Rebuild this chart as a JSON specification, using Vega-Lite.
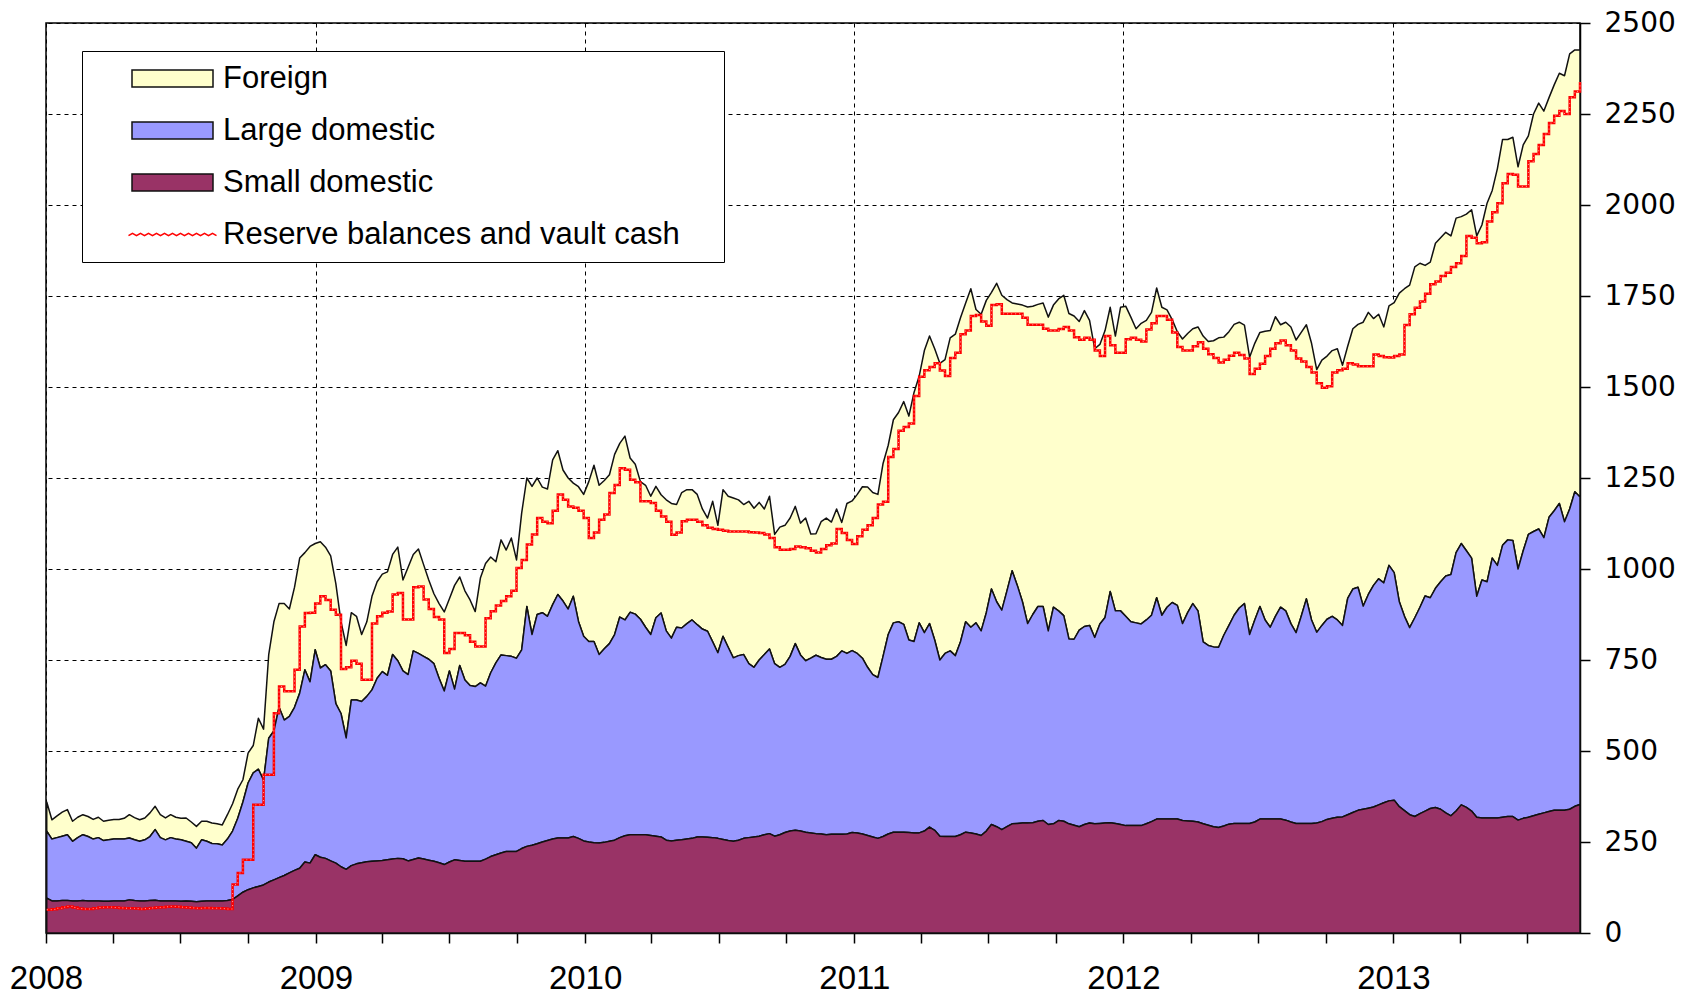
{
"$schema": "https://vega.github.io/schema/vega-lite/v6.json",
"autosize": {"type": "none"},
"width": 1534,
"height": 910,
"padding": {"left": 46, "top": 23, "right": 114, "bottom": 62},
"background": "white",
"config": {
  "view": {"stroke": "#000000", "strokeWidth": 1.5},
  "font": "Liberation Sans",
  "legend": {"symbolOpacity": 1, "symbolSize": 400, "symbolStrokeWidth": 1.5}
},
"data": {"format": {"parse": {"d": "date"}}, "values": [
{"d":"2008-01-02","small":96,"large":184,"foreign":80,"reserve":64},
{"d":"2008-01-09","small":88,"large":170,"foreign":53,"reserve":65},
{"d":"2008-01-16","small":88,"large":174,"foreign":60,"reserve":68},
{"d":"2008-01-23","small":89,"large":177,"foreign":66,"reserve":71},
{"d":"2008-01-30","small":89,"large":181,"foreign":69,"reserve":73},
{"d":"2008-02-06","small":88,"large":164,"foreign":55,"reserve":70},
{"d":"2008-02-13","small":88,"large":174,"foreign":56,"reserve":67},
{"d":"2008-02-20","small":89,"large":181,"foreign":55,"reserve":66},
{"d":"2008-02-27","small":88,"large":177,"foreign":55,"reserve":66},
{"d":"2008-03-05","small":88,"large":170,"foreign":54,"reserve":68},
{"d":"2008-03-12","small":88,"large":174,"foreign":56,"reserve":70},
{"d":"2008-03-19","small":87,"large":167,"foreign":53,"reserve":71},
{"d":"2008-03-26","small":87,"large":169,"foreign":54,"reserve":71},
{"d":"2008-04-02","small":88,"large":170,"foreign":54,"reserve":70},
{"d":"2008-04-09","small":88,"large":170,"foreign":54,"reserve":69},
{"d":"2008-04-16","small":88,"large":170,"foreign":57,"reserve":68},
{"d":"2008-04-23","small":91,"large":170,"foreign":64,"reserve":68},
{"d":"2008-04-30","small":89,"large":167,"foreign":61,"reserve":67},
{"d":"2008-05-07","small":88,"large":164,"foreign":59,"reserve":66},
{"d":"2008-05-14","small":88,"large":168,"foreign":60,"reserve":67},
{"d":"2008-05-21","small":89,"large":176,"foreign":65,"reserve":69},
{"d":"2008-05-28","small":90,"large":194,"foreign":64,"reserve":70},
{"d":"2008-06-04","small":88,"large":174,"foreign":63,"reserve":71},
{"d":"2008-06-11","small":88,"large":168,"foreign":60,"reserve":72},
{"d":"2008-06-18","small":88,"large":174,"foreign":63,"reserve":73},
{"d":"2008-06-25","small":88,"large":170,"foreign":60,"reserve":72},
{"d":"2008-07-02","small":87,"large":169,"foreign":59,"reserve":71},
{"d":"2008-07-09","small":88,"large":164,"foreign":64,"reserve":70},
{"d":"2008-07-16","small":87,"large":161,"foreign":57,"reserve":69},
{"d":"2008-07-23","small":86,"large":147,"foreign":60,"reserve":68},
{"d":"2008-07-30","small":87,"large":169,"foreign":51,"reserve":69},
{"d":"2008-08-06","small":88,"large":164,"foreign":55,"reserve":69},
{"d":"2008-08-13","small":88,"large":158,"foreign":56,"reserve":68},
{"d":"2008-08-20","small":88,"large":157,"foreign":55,"reserve":68},
{"d":"2008-08-27","small":88,"large":154,"foreign":55,"reserve":67},
{"d":"2008-09-03","small":89,"large":169,"foreign":67,"reserve":66},
{"d":"2008-09-10","small":92,"large":188,"foreign":75,"reserve":133},
{"d":"2008-09-17","small":102,"large":213,"foreign":80,"reserve":165},
{"d":"2008-09-24","small":112,"large":248,"foreign":61,"reserve":201},
{"d":"2008-10-01","small":119,"large":293,"foreign":82,"reserve":201},
{"d":"2008-10-08","small":124,"large":316,"foreign":75,"reserve":352},
{"d":"2008-10-15","small":128,"large":322,"foreign":140,"reserve":352},
{"d":"2008-10-22","small":132,"large":288,"foreign":140,"reserve":435},
{"d":"2008-10-29","small":140,"large":395,"foreign":230,"reserve":435},
{"d":"2008-11-05","small":146,"large":409,"foreign":300,"reserve":604},
{"d":"2008-11-12","small":152,"large":468,"foreign":285,"reserve":677},
{"d":"2008-11-19","small":158,"large":427,"foreign":320,"reserve":664},
{"d":"2008-11-26","small":165,"large":430,"foreign":295,"reserve":664},
{"d":"2008-12-03","small":172,"large":448,"foreign":330,"reserve":723},
{"d":"2008-12-10","small":178,"large":481,"foreign":371,"reserve":842},
{"d":"2008-12-17","small":195,"large":528,"foreign":322,"reserve":879},
{"d":"2008-12-24","small":192,"large":498,"foreign":372,"reserve":880},
{"d":"2008-12-31","small":215,"large":563,"foreign":292,"reserve":905},
{"d":"2009-01-07","small":208,"large":520,"foreign":347,"reserve":925},
{"d":"2009-01-14","small":205,"large":532,"foreign":323,"reserve":915},
{"d":"2009-01-21","small":198,"large":522,"foreign":316,"reserve":888},
{"d":"2009-01-28","small":192,"large":438,"foreign":330,"reserve":874},
{"d":"2009-02-04","small":182,"large":421,"foreign":252,"reserve":725},
{"d":"2009-02-11","small":175,"large":361,"foreign":254,"reserve":730},
{"d":"2009-02-18","small":185,"large":455,"foreign":240,"reserve":748},
{"d":"2009-02-25","small":190,"large":450,"foreign":230,"reserve":740},
{"d":"2009-03-04","small":193,"large":443,"foreign":184,"reserve":696},
{"d":"2009-03-11","small":196,"large":454,"foreign":205,"reserve":696},
{"d":"2009-03-18","small":197,"large":471,"foreign":257,"reserve":850},
{"d":"2009-03-25","small":198,"large":502,"foreign":265,"reserve":870},
{"d":"2009-04-01","small":199,"large":519,"foreign":268,"reserve":880},
{"d":"2009-04-08","small":201,"large":507,"foreign":284,"reserve":883},
{"d":"2009-04-15","small":203,"large":562,"foreign":275,"reserve":930},
{"d":"2009-04-22","small":205,"large":543,"foreign":312,"reserve":934},
{"d":"2009-04-29","small":204,"large":516,"foreign":250,"reserve":861},
{"d":"2009-05-06","small":198,"large":512,"foreign":295,"reserve":861},
{"d":"2009-05-13","small":202,"large":573,"foreign":265,"reserve":950},
{"d":"2009-05-20","small":206,"large":562,"foreign":287,"reserve":952},
{"d":"2009-05-27","small":203,"large":557,"foreign":252,"reserve":916},
{"d":"2009-06-03","small":200,"large":552,"foreign":218,"reserve":890},
{"d":"2009-06-10","small":197,"large":543,"foreign":192,"reserve":868},
{"d":"2009-06-17","small":193,"large":507,"foreign":205,"reserve":861},
{"d":"2009-06-24","small":188,"large":477,"foreign":217,"reserve":769},
{"d":"2009-07-01","small":195,"large":525,"foreign":198,"reserve":780},
{"d":"2009-07-08","small":201,"large":469,"foreign":285,"reserve":824},
{"d":"2009-07-15","small":199,"large":536,"foreign":243,"reserve":824},
{"d":"2009-07-22","small":197,"large":498,"foreign":245,"reserve":818},
{"d":"2009-07-29","small":197,"large":483,"foreign":235,"reserve":800},
{"d":"2009-08-05","small":197,"large":480,"foreign":206,"reserve":787},
{"d":"2009-08-12","small":197,"large":490,"foreign":288,"reserve":787},
{"d":"2009-08-19","small":203,"large":475,"foreign":337,"reserve":865},
{"d":"2009-08-26","small":210,"large":505,"foreign":318,"reserve":884},
{"d":"2009-09-02","small":215,"large":527,"foreign":278,"reserve":900},
{"d":"2009-09-09","small":220,"large":544,"foreign":316,"reserve":912},
{"d":"2009-09-16","small":224,"large":538,"foreign":290,"reserve":925},
{"d":"2009-09-23","small":224,"large":536,"foreign":325,"reserve":940},
{"d":"2009-09-30","small":224,"large":531,"foreign":270,"reserve":1003},
{"d":"2009-10-07","small":232,"large":546,"foreign":376,"reserve":1025},
{"d":"2009-10-14","small":238,"large":659,"foreign":353,"reserve":1067},
{"d":"2009-10-21","small":241,"large":579,"foreign":407,"reserve":1095},
{"d":"2009-10-28","small":245,"large":630,"foreign":375,"reserve":1140},
{"d":"2009-11-04","small":250,"large":630,"foreign":345,"reserve":1130},
{"d":"2009-11-11","small":254,"large":616,"foreign":350,"reserve":1126},
{"d":"2009-11-18","small":258,"large":644,"foreign":398,"reserve":1160},
{"d":"2009-11-25","small":261,"large":669,"foreign":395,"reserve":1205},
{"d":"2009-12-02","small":261,"large":651,"foreign":360,"reserve":1190},
{"d":"2009-12-09","small":261,"large":629,"foreign":360,"reserve":1172},
{"d":"2009-12-16","small":265,"large":660,"foreign":311,"reserve":1168},
{"d":"2009-12-23","small":260,"large":596,"foreign":370,"reserve":1160},
{"d":"2009-12-30","small":253,"large":562,"foreign":390,"reserve":1140},
{"d":"2010-01-06","small":250,"large":551,"foreign":439,"reserve":1085},
{"d":"2010-01-13","small":248,"large":553,"foreign":484,"reserve":1100},
{"d":"2010-01-20","small":247,"large":518,"foreign":465,"reserve":1135},
{"d":"2010-01-27","small":249,"large":532,"foreign":462,"reserve":1150},
{"d":"2010-02-03","small":252,"large":543,"foreign":464,"reserve":1209},
{"d":"2010-02-10","small":255,"large":565,"foreign":495,"reserve":1231},
{"d":"2010-02-17","small":262,"large":606,"foreign":477,"reserve":1277},
{"d":"2010-02-24","small":267,"large":593,"foreign":505,"reserve":1273},
{"d":"2010-03-03","small":270,"large":611,"foreign":424,"reserve":1245},
{"d":"2010-03-10","small":270,"large":606,"foreign":412,"reserve":1238},
{"d":"2010-03-17","small":270,"large":592,"foreign":378,"reserve":1186},
{"d":"2010-03-24","small":270,"large":570,"foreign":390,"reserve":1186},
{"d":"2010-03-31","small":268,"large":552,"foreign":380,"reserve":1181},
{"d":"2010-04-07","small":266,"large":600,"foreign":361,"reserve":1160},
{"d":"2010-04-14","small":264,"large":615,"foreign":325,"reserve":1144},
{"d":"2010-04-21","small":255,"large":575,"foreign":360,"reserve":1130},
{"d":"2010-04-28","small":253,"large":557,"foreign":370,"reserve":1094},
{"d":"2010-05-05","small":255,"large":585,"foreign":337,"reserve":1100},
{"d":"2010-05-12","small":256,"large":582,"foreign":372,"reserve":1131},
{"d":"2010-05-19","small":258,"large":592,"foreign":368,"reserve":1135},
{"d":"2010-05-26","small":260,"large":600,"foreign":358,"reserve":1135},
{"d":"2010-06-02","small":264,"large":583,"foreign":358,"reserve":1130},
{"d":"2010-06-09","small":264,"large":571,"foreign":330,"reserve":1120},
{"d":"2010-06-16","small":263,"large":566,"foreign":311,"reserve":1113},
{"d":"2010-06-23","small":262,"large":538,"foreign":386,"reserve":1110},
{"d":"2010-06-30","small":260,"large":510,"foreign":350,"reserve":1108},
{"d":"2010-07-07","small":257,"large":558,"foreign":403,"reserve":1105},
{"d":"2010-07-14","small":254,"large":531,"foreign":415,"reserve":1103},
{"d":"2010-07-21","small":252,"large":504,"foreign":439,"reserve":1103},
{"d":"2010-07-28","small":255,"large":507,"foreign":428,"reserve":1103},
{"d":"2010-08-04","small":260,"large":505,"foreign":412,"reserve":1103},
{"d":"2010-08-11","small":262,"large":478,"foreign":446,"reserve":1101},
{"d":"2010-08-18","small":264,"large":466,"foreign":437,"reserve":1100},
{"d":"2010-08-25","small":266,"large":484,"foreign":433,"reserve":1099},
{"d":"2010-09-01","small":270,"large":495,"foreign":400,"reserve":1095},
{"d":"2010-09-08","small":273,"large":507,"foreign":420,"reserve":1085},
{"d":"2010-09-15","small":266,"large":474,"foreign":355,"reserve":1060},
{"d":"2010-09-22","small":270,"large":460,"foreign":385,"reserve":1053},
{"d":"2010-09-29","small":276,"large":462,"foreign":382,"reserve":1053},
{"d":"2010-10-06","small":280,"large":480,"foreign":380,"reserve":1055},
{"d":"2010-10-13","small":282,"large":513,"foreign":377,"reserve":1062},
{"d":"2010-10-20","small":280,"large":484,"foreign":362,"reserve":1060},
{"d":"2010-10-27","small":277,"large":471,"foreign":392,"reserve":1057},
{"d":"2010-11-03","small":275,"large":480,"foreign":341,"reserve":1050},
{"d":"2010-11-10","small":273,"large":490,"foreign":334,"reserve":1045},
{"d":"2010-11-17","small":272,"large":485,"foreign":373,"reserve":1055},
{"d":"2010-11-24","small":270,"large":482,"foreign":388,"reserve":1065},
{"d":"2010-12-01","small":271,"large":481,"foreign":377,"reserve":1070},
{"d":"2010-12-08","small":271,"large":489,"foreign":405,"reserve":1110},
{"d":"2010-12-15","small":271,"large":504,"foreign":353,"reserve":1099},
{"d":"2010-12-22","small":272,"large":496,"foreign":412,"reserve":1080},
{"d":"2010-12-29","small":276,"large":500,"foreign":411,"reserve":1069},
{"d":"2011-01-05","small":275,"large":493,"foreign":437,"reserve":1090},
{"d":"2011-01-12","small":272,"large":483,"foreign":471,"reserve":1108},
{"d":"2011-01-19","small":268,"large":462,"foreign":495,"reserve":1120},
{"d":"2011-01-26","small":264,"large":446,"foreign":500,"reserve":1140},
{"d":"2011-02-02","small":260,"large":442,"foreign":503,"reserve":1177},
{"d":"2011-02-09","small":265,"large":495,"foreign":530,"reserve":1185},
{"d":"2011-02-16","small":272,"large":548,"foreign":520,"reserve":1308},
{"d":"2011-02-23","small":277,"large":575,"foreign":558,"reserve":1330},
{"d":"2011-03-02","small":277,"large":578,"foreign":575,"reserve":1380},
{"d":"2011-03-09","small":277,"large":571,"foreign":612,"reserve":1390},
{"d":"2011-03-16","small":276,"large":529,"foreign":615,"reserve":1400},
{"d":"2011-03-23","small":275,"large":526,"foreign":684,"reserve":1475},
{"d":"2011-03-30","small":275,"large":577,"foreign":678,"reserve":1528},
{"d":"2011-04-06","small":280,"large":545,"foreign":775,"reserve":1546},
{"d":"2011-04-13","small":291,"large":559,"foreign":790,"reserve":1555},
{"d":"2011-04-20","small":282,"large":523,"foreign":800,"reserve":1565},
{"d":"2011-04-27","small":266,"large":484,"foreign":815,"reserve":1545},
{"d":"2011-05-04","small":265,"large":503,"foreign":807,"reserve":1530},
{"d":"2011-05-11","small":265,"large":510,"foreign":860,"reserve":1580},
{"d":"2011-05-18","small":265,"large":497,"foreign":883,"reserve":1594},
{"d":"2011-05-25","small":270,"large":530,"foreign":890,"reserve":1645},
{"d":"2011-06-01","small":277,"large":578,"foreign":876,"reserve":1655},
{"d":"2011-06-08","small":275,"large":565,"foreign":930,"reserve":1695},
{"d":"2011-06-15","small":272,"large":580,"foreign":861,"reserve":1698},
{"d":"2011-06-22","small":268,"large":562,"foreign":870,"reserve":1680},
{"d":"2011-06-29","small":280,"large":600,"foreign":858,"reserve":1668},
{"d":"2011-07-06","small":298,"large":647,"foreign":815,"reserve":1725},
{"d":"2011-07-13","small":292,"large":618,"foreign":875,"reserve":1727},
{"d":"2011-07-20","small":284,"large":603,"foreign":865,"reserve":1701},
{"d":"2011-07-27","small":292,"large":648,"foreign":800,"reserve":1701},
{"d":"2011-08-03","small":300,"large":695,"foreign":736,"reserve":1701},
{"d":"2011-08-10","small":301,"large":654,"foreign":773,"reserve":1701},
{"d":"2011-08-17","small":302,"large":608,"foreign":815,"reserve":1690},
{"d":"2011-08-24","small":302,"large":548,"foreign":870,"reserve":1671},
{"d":"2011-08-31","small":303,"large":572,"foreign":847,"reserve":1671},
{"d":"2011-09-07","small":307,"large":590,"foreign":830,"reserve":1671},
{"d":"2011-09-14","small":309,"large":588,"foreign":834,"reserve":1660},
{"d":"2011-09-21","small":298,"large":532,"foreign":862,"reserve":1655},
{"d":"2011-09-28","small":300,"large":595,"foreign":830,"reserve":1655},
{"d":"2011-10-05","small":309,"large":576,"foreign":857,"reserve":1659},
{"d":"2011-10-12","small":307,"large":565,"foreign":880,"reserve":1665},
{"d":"2011-10-19","small":300,"large":508,"foreign":894,"reserve":1655},
{"d":"2011-10-26","small":296,"large":511,"foreign":888,"reserve":1637},
{"d":"2011-11-02","small":292,"large":540,"foreign":848,"reserve":1630},
{"d":"2011-11-09","small":298,"large":544,"foreign":868,"reserve":1635},
{"d":"2011-11-16","small":302,"large":543,"foreign":838,"reserve":1630},
{"d":"2011-11-23","small":300,"large":512,"foreign":793,"reserve":1600},
{"d":"2011-11-30","small":301,"large":548,"foreign":768,"reserve":1585},
{"d":"2011-12-07","small":302,"large":565,"foreign":788,"reserve":1640},
{"d":"2011-12-14","small":303,"large":635,"foreign":781,"reserve":1615},
{"d":"2011-12-21","small":301,"large":584,"foreign":755,"reserve":1594},
{"d":"2011-12-28","small":298,"large":587,"foreign":834,"reserve":1594},
{"d":"2012-01-04","small":295,"large":575,"foreign":852,"reserve":1631},
{"d":"2012-01-11","small":295,"large":560,"foreign":837,"reserve":1635},
{"d":"2012-01-18","small":295,"large":557,"foreign":808,"reserve":1630},
{"d":"2012-01-25","small":295,"large":554,"foreign":826,"reserve":1625},
{"d":"2012-02-01","small":300,"large":560,"foreign":823,"reserve":1658},
{"d":"2012-02-08","small":306,"large":567,"foreign":832,"reserve":1675},
{"d":"2012-02-15","small":313,"large":608,"foreign":851,"reserve":1695},
{"d":"2012-02-22","small":313,"large":560,"foreign":846,"reserve":1695},
{"d":"2012-02-29","small":313,"large":582,"foreign":817,"reserve":1685},
{"d":"2012-03-07","small":313,"large":595,"foreign":777,"reserve":1650},
{"d":"2012-03-14","small":313,"large":587,"foreign":752,"reserve":1610},
{"d":"2012-03-21","small":309,"large":541,"foreign":782,"reserve":1600},
{"d":"2012-03-28","small":308,"large":572,"foreign":767,"reserve":1600},
{"d":"2012-04-04","small":307,"large":598,"foreign":755,"reserve":1612},
{"d":"2012-04-11","small":305,"large":580,"foreign":780,"reserve":1623},
{"d":"2012-04-18","small":300,"large":500,"foreign":840,"reserve":1605},
{"d":"2012-04-25","small":296,"large":494,"foreign":835,"reserve":1590},
{"d":"2012-05-02","small":292,"large":494,"foreign":841,"reserve":1580},
{"d":"2012-05-09","small":290,"large":495,"foreign":850,"reserve":1567},
{"d":"2012-05-16","small":294,"large":524,"foreign":819,"reserve":1575},
{"d":"2012-05-23","small":299,"large":546,"foreign":807,"reserve":1586},
{"d":"2012-05-30","small":301,"large":572,"foreign":799,"reserve":1594},
{"d":"2012-06-06","small":301,"large":592,"foreign":785,"reserve":1588},
{"d":"2012-06-13","small":301,"large":604,"foreign":765,"reserve":1578},
{"d":"2012-06-20","small":301,"large":519,"foreign":762,"reserve":1536},
{"d":"2012-06-27","small":305,"large":555,"foreign":760,"reserve":1550},
{"d":"2012-07-04","small":313,"large":584,"foreign":753,"reserve":1564},
{"d":"2012-07-11","small":313,"large":547,"foreign":793,"reserve":1585},
{"d":"2012-07-18","small":313,"large":527,"foreign":815,"reserve":1605},
{"d":"2012-07-25","small":313,"large":557,"foreign":823,"reserve":1620},
{"d":"2012-08-01","small":313,"large":582,"foreign":776,"reserve":1628},
{"d":"2012-08-08","small":310,"large":575,"foreign":793,"reserve":1615},
{"d":"2012-08-15","small":305,"large":545,"foreign":815,"reserve":1600},
{"d":"2012-08-22","small":301,"large":524,"foreign":804,"reserve":1578},
{"d":"2012-08-29","small":301,"large":569,"foreign":780,"reserve":1570},
{"d":"2012-09-05","small":301,"large":617,"foreign":753,"reserve":1555},
{"d":"2012-09-12","small":301,"large":559,"foreign":760,"reserve":1540},
{"d":"2012-09-19","small":302,"large":524,"foreign":722,"reserve":1510},
{"d":"2012-09-26","small":306,"large":539,"foreign":729,"reserve":1498},
{"d":"2012-10-03","small":312,"large":550,"foreign":723,"reserve":1502},
{"d":"2012-10-10","small":315,"large":555,"foreign":730,"reserve":1540},
{"d":"2012-10-17","small":318,"large":542,"foreign":745,"reserve":1546},
{"d":"2012-10-24","small":319,"large":526,"foreign":715,"reserve":1550},
{"d":"2012-10-31","small":325,"large":594,"foreign":693,"reserve":1565},
{"d":"2012-11-07","small":331,"large":614,"foreign":715,"reserve":1562},
{"d":"2012-11-14","small":337,"large":613,"foreign":722,"reserve":1557},
{"d":"2012-11-21","small":340,"large":558,"foreign":780,"reserve":1557},
{"d":"2012-11-28","small":343,"large":587,"foreign":775,"reserve":1557},
{"d":"2012-12-05","small":346,"large":609,"foreign":733,"reserve":1589},
{"d":"2012-12-12","small":352,"large":621,"foreign":727,"reserve":1585},
{"d":"2012-12-19","small":358,"large":604,"foreign":703,"reserve":1582},
{"d":"2012-12-26","small":363,"large":647,"foreign":713,"reserve":1581},
{"d":"2013-01-02","small":365,"large":625,"foreign":742,"reserve":1585},
{"d":"2013-01-09","small":347,"large":563,"foreign":848,"reserve":1589},
{"d":"2013-01-16","small":336,"large":534,"foreign":900,"reserve":1670},
{"d":"2013-01-23","small":325,"large":514,"foreign":941,"reserve":1700},
{"d":"2013-01-30","small":320,"large":546,"foreign":964,"reserve":1718},
{"d":"2013-02-06","small":328,"large":567,"foreign":945,"reserve":1735},
{"d":"2013-02-13","small":335,"large":591,"foreign":908,"reserve":1756},
{"d":"2013-02-20","small":342,"large":579,"foreign":922,"reserve":1782},
{"d":"2013-02-27","small":345,"large":602,"foreign":948,"reserve":1790},
{"d":"2013-03-06","small":340,"large":625,"foreign":945,"reserve":1805},
{"d":"2013-03-13","small":330,"large":651,"foreign":944,"reserve":1814},
{"d":"2013-03-20","small":322,"large":663,"foreign":930,"reserve":1830},
{"d":"2013-03-27","small":335,"large":710,"foreign":919,"reserve":1840},
{"d":"2013-04-03","small":352,"large":718,"foreign":898,"reserve":1860},
{"d":"2013-04-10","small":345,"large":705,"foreign":925,"reserve":1915},
{"d":"2013-04-17","small":335,"large":695,"foreign":957,"reserve":1910},
{"d":"2013-04-24","small":318,"large":607,"foreign":990,"reserve":1895},
{"d":"2013-05-01","small":316,"large":654,"foreign":975,"reserve":1898},
{"d":"2013-05-08","small":316,"large":649,"foreign":1040,"reserve":1955},
{"d":"2013-05-15","small":316,"large":714,"foreign":1010,"reserve":1980},
{"d":"2013-05-22","small":316,"large":694,"foreign":1090,"reserve":2005},
{"d":"2013-05-29","small":318,"large":747,"foreign":1115,"reserve":2060},
{"d":"2013-06-05","small":320,"large":760,"foreign":1100,"reserve":2085},
{"d":"2013-06-12","small":320,"large":758,"foreign":1108,"reserve":2083},
{"d":"2013-06-19","small":310,"large":690,"foreign":1105,"reserve":2051},
{"d":"2013-06-26","small":315,"large":735,"foreign":1115,"reserve":2051},
{"d":"2013-07-03","small":318,"large":777,"foreign":1095,"reserve":2120},
{"d":"2013-07-10","small":322,"large":781,"foreign":1147,"reserve":2140},
{"d":"2013-07-17","small":326,"large":784,"foreign":1170,"reserve":2165},
{"d":"2013-07-24","small":330,"large":756,"foreign":1172,"reserve":2195},
{"d":"2013-07-31","small":334,"large":808,"foreign":1153,"reserve":2225},
{"d":"2013-08-07","small":337,"large":823,"foreign":1170,"reserve":2245},
{"d":"2013-08-14","small":337,"large":843,"foreign":1182,"reserve":2258},
{"d":"2013-08-21","small":337,"large":793,"foreign":1225,"reserve":2250},
{"d":"2013-08-28","small":340,"large":825,"foreign":1250,"reserve":2296},
{"d":"2013-09-04","small":348,"large":864,"foreign":1214,"reserve":2312},
{"d":"2013-09-11","small":353,"large":845,"foreign":1228,"reserve":2338}
]},
"transform": [{"fold": ["foreign", "large", "small", "reserve"], "as": ["key", "value"]}],
"encoding": {
  "x": {
    "field": "d", "type": "temporal",
    "scale": {"type": "utc", "nice": false, "domain": [{"year": 2008, "month": 1, "date": 1, "utc": true}, {"year": 2013, "month": 9, "date": 11, "utc": true}]},
    "axis": {
      "title": null,
      "tickCount": {"interval": "month", "step": 3},
      "labelExpr": "utcmonth(datum.value) === 0 ? utcFormat(datum.value, '%Y') : ''",
      "labelFont": "Liberation Sans", "labelFontSize": 33, "labelColor": "#000000",
      "labelPadding": 19, "labelFlush": false, "labelOverlap": false, "labelBound": false,
      "tickSize": 10, "tickColor": "#000000", "tickWidth": 1.5,
      "domainColor": "#000000", "domainWidth": 1.5,
      "grid": true, "gridColor": "#000000", "gridDash": [4, 4], "gridWidth": 1,
      "gridOpacity": {"condition": {"test": "utcmonth(datum.value) !== 0", "value": 0}, "value": 1},
      "encode": {
        "ticks": {
          "y": {"condition": {"test": "utcmonth(datum.value) === 0", "value": -9}, "value": 0},
          "y2": {"condition": {"test": "utcmonth(datum.value) === 0", "value": 10}, "value": 8}
        }
      }
    }
  }
},
"layer": [
  {
    "transform": [{"filter": "datum.key !== 'reserve'"}],
    "mark": {"type": "area", "strokeWidth": 1.5, "strokeJoin": "round"},
    "encoding": {
      "y": {
        "field": "value", "type": "quantitative", "stack": "zero",
        "scale": {"domain": [0, 2500], "nice": false},
        "axis": {
          "title": null, "orient": "right", "format": "d",
          "values": [0, 250, 500, 750, 1000, 1250, 1500, 1750, 2000, 2250, 2500],
          "labelFont": "DejaVu Sans", "labelFontSize": 28, "labelColor": "#000000",
          "labelAlign": "left", "labelBaseline": "middle", "labelPadding": 14,
          "tickSize": 10, "tickColor": "#000000", "tickWidth": 1.5,
          "domainColor": "#000000", "domainWidth": 1.5,
          "grid": true, "gridColor": "#000000", "gridDash": [4, 4], "gridWidth": 1
        }
      },
      "fill": {
        "field": "key", "type": "nominal",
        "scale": {"domain": ["foreign", "large", "small", "reserve"], "range": ["#ffffcc", "#9999ff", "#993366", "transparent"]},
        "legend": {
          "title": null, "orient": "none", "legendX": 36, "legendY": 28,
          "direction": "vertical",
          "labelExpr": "datum.value === 'foreign' ? 'Foreign' : datum.value === 'large' ? 'Large domestic' : datum.value === 'small' ? 'Small domestic' : 'Reserve balances and vault cash'",
          "labelFont": "Liberation Sans", "labelFontSize": 31, "labelColor": "#000000", "labelLimit": 0,
          "labelOffset": 35, "symbolOffset": 63, "symbolSize": 400, "symbolStrokeWidth": 1.5, "symbolOpacity": 1,
          "rowPadding": 20, "padding": 12,
          "strokeColor": "#000000", "fillColor": "#ffffff"
        }
      },
      "stroke": {
        "field": "key", "type": "nominal",
        "scale": {"domain": ["foreign", "large", "small", "reserve"], "range": ["#111111", "#111111", "#111111", "#ff0000"]}
      },
      "order": {"field": "key", "sort": "descending"}
    }
  },
  {
    "transform": [{"filter": "datum.key === 'reserve'"}],
    "mark": {"type": "line", "interpolate": "step-after", "strokeWidth": 2.5},
    "encoding": {
      "y": {"field": "value", "type": "quantitative", "scale": {"domain": [0, 2500], "nice": false}},
      "stroke": {"field": "key", "type": "nominal"}
    }
  },
  {
    "transform": [{"filter": "datum.key === 'reserve'"}],
    "mark": {"type": "line", "interpolate": "step-after", "color": "#ffffff", "strokeWidth": 0.8, "strokeDash": [1, 3], "opacity": 0.8},
    "encoding": {
      "y": {"field": "value", "type": "quantitative", "scale": {"domain": [0, 2500], "nice": false}}
    }
  },
  {
    "transform": [{"filter": "datum.key === 'reserve'"}],
    "mark": {"type": "point", "size": 0, "opacity": 0, "strokeWidth": 0},
    "encoding": {
      "y": {"field": "value", "type": "quantitative", "scale": {"domain": [0, 2500], "nice": false}},
      "shape": {
        "field": "key", "type": "nominal",
        "scale": {"domain": ["foreign", "large", "small", "reserve"], "range": ["M-4.05,-0.85H4.05V0.85H-4.05Z", "M-4.05,-0.85H4.05V0.85H-4.05Z", "M-4.05,-0.85H4.05V0.85H-4.05Z", "M-4.4,0.12L-4,-0.12L-3.6,0.12L-3.2,-0.12L-2.8,0.12L-2.4,-0.12L-2,0.12L-1.6,-0.12L-1.2,0.12L-0.8,-0.12L-0.4,0.12L0,-0.12L0.4,0.12L0.8,-0.12L1.2,0.12L1.6,-0.12L2,0.12L2.4,-0.12L2.8,0.12L3.2,-0.12L3.6,0.12L4,-0.12L4.4,0.12M53.6,0"]}
      }
    }
  }
]
}
